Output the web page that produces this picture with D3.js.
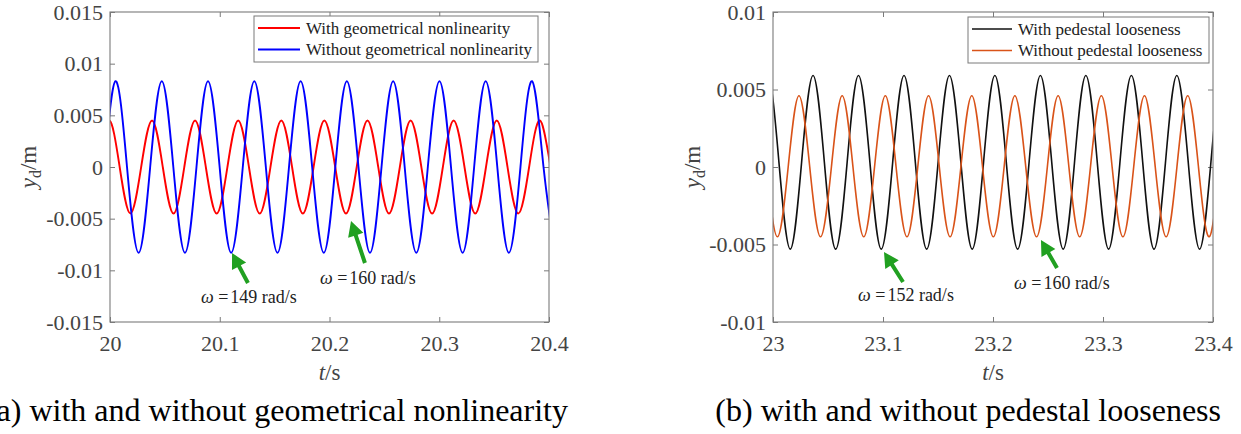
<!DOCTYPE html>
<html>
<head>
<meta charset="utf-8">
<script src="https://cdn.jsdelivr.net/npm/d3@7"></script>
<style>
  html, body { margin: 0; padding: 0; background: #fff; }
  svg { display: block; }
  svg text { font-family: "Liberation Serif", "Times New Roman", serif; }
</style>
</head>
<body>
<svg id="fig" width="1241" height="434" font-family="Liberation Serif, serif"></svg>
<script>
// ---------- (a) geometrical nonlinearity: key points (peaks, crossings, troughs) ----------
const geoWithT = [19.9794, 19.9892, 19.9990, 20.0088, 20.0186, 20.0284, 20.0383, 20.0481, 20.0579, 20.0677,
  20.0775, 20.0873, 20.0972, 20.1070, 20.1168, 20.1266, 20.1364, 20.1462, 20.1561, 20.1659,
  20.1757, 20.1855, 20.1953, 20.2052, 20.2150, 20.2248, 20.2346, 20.2444, 20.2542, 20.2641,
  20.2739, 20.2837, 20.2935, 20.3033, 20.3131, 20.3230, 20.3328, 20.3426, 20.3524, 20.3622,
  20.3720, 20.3819, 20.3917, 20.4015, 20.4113];
const geoWithY = [-0.0045, 0, 0.0045, 0, -0.0045, 0, 0.0045, 0, -0.0045, 0,
  0.0045, 0, -0.0045, 0, 0.0045, 0, -0.0045, 0, 0.0045, 0,
  -0.0045, 0, 0.0045, 0, -0.0045, 0, 0.0045, 0, -0.0045, 0,
  0.0045, 0, -0.0045, 0, 0.0045, 0, -0.0045, 0, 0.0045, 0,
  -0.0045, 0, 0.0045, 0, -0.0045];

const geoWithoutT = [19.9839, 19.9945, 20.0050, 20.0155, 20.0261, 20.0366, 20.0472, 20.0577, 20.0683, 20.0788,
  20.0893, 20.0999, 20.1104, 20.1210, 20.1315, 20.1420, 20.1526, 20.1631, 20.1737, 20.1842,
  20.1948, 20.2053, 20.2158, 20.2264, 20.2369, 20.2474, 20.2580, 20.2685, 20.2791, 20.2896,
  20.3002, 20.3107, 20.3213, 20.3318, 20.3423, 20.3529, 20.3634, 20.3740, 20.3845, 20.3950,
  20.4056];
const geoWithoutY = [-0.0083, 0, 0.0083, 0, -0.0083, 0, 0.0083, 0, -0.0083, 0,
  0.0083, 0, -0.0083, 0, 0.0083, 0, -0.0083, 0, 0.0083, 0,
  -0.0083, 0, 0.0083, 0, -0.0083, 0, 0.0083, 0, -0.0083, 0,
  0.0083, 0, -0.0083, 0, 0.0083, 0, -0.0083, 0, 0.0083, 0,
  -0.0083];

// ---------- (b) pedestal looseness ----------
const pedWithT = [22.9743, 22.9847, 22.9950, 23.0054, 23.0157, 23.0260, 23.0364, 23.0467, 23.0570, 23.0674,
  23.0777, 23.0881, 23.0984, 23.1088, 23.1191, 23.1294, 23.1397, 23.1501, 23.1604, 23.1708,
  23.1811, 23.1914, 23.2017, 23.2121, 23.2224, 23.2328, 23.2431, 23.2534, 23.2638, 23.2741,
  23.2844, 23.2948, 23.3051, 23.3154, 23.3258, 23.3361, 23.3464, 23.3568, 23.3671, 23.3775,
  23.3878, 23.3981, 23.4085, 23.4188];
const pedWithY = [-0.0053, 0.0003, 0.0059, 0.0003, -0.0053, 0.0003, 0.0059, 0.0003, -0.0053, 0.0003,
  0.0059, 0.0003, -0.0053, 0.0003, 0.0059, 0.0003, -0.0053, 0.0003, 0.0059, 0.0003,
  -0.0053, 0.0003, 0.0059, 0.0003, -0.0053, 0.0003, 0.0059, 0.0003, -0.0053, 0.0003,
  0.0059, 0.0003, -0.0053, 0.0003, 0.0059, 0.0003, -0.0053, 0.0003, 0.0059, 0.0003,
  -0.0053, 0.0003, 0.0059, 0.0003];

const pedWithoutT = [22.9647, 22.9745, 22.9843, 22.9941, 23.0040, 23.0138, 23.0236, 23.0334, 23.0432, 23.0531,
  23.0629, 23.0727, 23.0825, 23.0923, 23.1021, 23.1119, 23.1218, 23.1316, 23.1414, 23.1512,
  23.1610, 23.1708, 23.1807, 23.1905, 23.2003, 23.2101, 23.2199, 23.2298, 23.2396, 23.2494,
  23.2592, 23.2690, 23.2788, 23.2886, 23.2985, 23.3083, 23.3181, 23.3279, 23.3377, 23.3475,
  23.3574, 23.3672, 23.3770, 23.3868, 23.3966, 23.4065, 23.4163];
const pedWithoutY = [-0.0045, 0, 0.0046, 0, -0.0045, 0, 0.0046, 0, -0.0045, 0,
  0.0046, 0, -0.0045, 0, 0.0046, 0, -0.0045, 0, 0.0046, 0,
  -0.0045, 0, 0.0046, 0, -0.0045, 0, 0.0046, 0, -0.0045, 0,
  0.0046, 0, -0.0045, 0, 0.0046, 0, -0.0045, 0, 0.0046, 0,
  -0.0045, 0, 0.0046, 0, -0.0045, 0, 0.0046];

// ---------- ticks ----------
const xTicksA = [20, 20.1, 20.2, 20.3, 20.4];
const xTickLabelsA = ["20", "20.1", "20.2", "20.3", "20.4"];
const yTicksA = [-0.015, -0.01, -0.005, 0, 0.005, 0.01, 0.015];
const yTickLabelsA = ["-0.015", "-0.01", "-0.005", "0", "0.005", "0.01", "0.015"];
const xTicksB = [23, 23.1, 23.2, 23.3, 23.4];
const xTickLabelsB = ["23", "23.1", "23.2", "23.3", "23.4"];
const yTicksB = [-0.01, -0.005, 0, 0.005, 0.01];
const yTickLabelsB = ["-0.01", "-0.005", "0", "0.005", "0.01"];

// ---------- legend text, annotations, captions ----------
const legendA = ["With geometrical nonlinearity", "Without geometrical nonlinearity"];
const legendB = ["With pedestal looseness", "Without pedestal looseness"];
// arrows in data units: [tipT, tipY, tailT, tailY]; labels: [t, y, omega]
const arrowsA = [[20.1112, -0.00832, 20.1257, -0.01123], [20.2196, -0.00523, 20.2323, -0.00929]];
const notesA = [[20.0829, -0.01316, "149"], [20.1913, -0.01132, "160"]];
const arrowsB = [[23.1009, -0.00548, 23.1182, -0.00742], [23.2436, -0.00471, 23.2582, -0.00652]];
const notesB = [[23.0773, -0.00865, "152"], [23.2191, -0.00787, "160"]];
const captionA = "(a) with and without geometrical nonlinearity";
const captionB = "(b) with and without pedestal looseness";

const SERIF = "Liberation Serif, Times New Roman, serif";
const svg = d3.select("#fig");
const AXIS = "#7a7a7a", TICKTXT = "#444", ARROW = "#21a021";

function zip(ts, ys) { return ts.map((t, i) => ({ t, y: ys[i] })); }

function arrowPath(x0, y0, x1, y1) {
  // shaft from (x0,y0) to tip (x1,y1) with a triangular head
  const dx = x1 - x0, dy = y1 - y0, L = Math.hypot(dx, dy);
  const ux = dx / L, uy = dy / L, nx = -uy, ny = ux;
  const hl = 15, hw = 8, sw = 2;
  const bx = x1 - ux * hl, by = y1 - uy * hl;
  const p = [
    [x0 + nx * sw, y0 + ny * sw], [bx + nx * sw, by + ny * sw], [bx + nx * hw, by + ny * hw],
    [x1, y1],
    [bx - nx * hw, by - ny * hw], [bx - nx * sw, by - ny * sw], [x0 - nx * sw, y0 - ny * sw]
  ];
  return "M" + p.map(d => d.join(",")).join("L") + "Z";
}

function panel(cfg) {
  const { id, L, R, T, B } = cfg;
  const x = d3.scaleLinear().domain(cfg.xDomain).range([L, R]);
  const y = d3.scaleLinear().domain(cfg.yDomain).range([B, T]);
  const g = svg.append("g").attr("font-family", SERIF);

  svg.append("clipPath").attr("id", "clip-" + id)
    .append("rect").attr("x", L).attr("y", T).attr("width", R - L).attr("height", B - T);

  // axes with inward ticks on all four sides
  const tk = 5;
  const bottom = g.append("g").attr("transform", `translate(0,${B})`)
    .call(d3.axisBottom(x).tickValues(cfg.xTicks).tickFormat((d, i) => cfg.xLabels[i])
      .tickSizeInner(-tk).tickSizeOuter(0).tickPadding(13));
  const top = g.append("g").attr("transform", `translate(0,${T})`)
    .call(d3.axisTop(x).tickValues(cfg.xTicks).tickFormat("").tickSizeInner(-tk).tickSizeOuter(0));
  const left = g.append("g").attr("transform", `translate(${L},0)`)
    .call(d3.axisLeft(y).tickValues(cfg.yTicks).tickFormat((d, i) => cfg.yLabels[i])
      .tickSizeInner(-tk).tickSizeOuter(0).tickPadding(7));
  const right = g.append("g").attr("transform", `translate(${R},0)`)
    .call(d3.axisRight(y).tickValues(cfg.yTicks).tickFormat("").tickSizeInner(-tk).tickSizeOuter(0));
  [bottom, top, left, right].forEach(a => {
    a.attr("font-family", SERIF).attr("font-size", 22);
    a.select(".domain").remove();
    a.selectAll(".tick line").attr("stroke", AXIS).attr("stroke-width", 1);
    a.selectAll(".tick text").attr("fill", TICKTXT);
  });

  // series
  const line = d3.line().x(d => x(d.t)).y(d => y(d.y)).curve(d3.curveNatural);
  const plot = g.append("g").attr("clip-path", `url(#clip-${id})`);
  cfg.series.forEach(s => {
    plot.append("path").datum(zip(s.t, s.y))
      .attr("d", line).attr("fill", "none")
      .attr("stroke", s.color).attr("stroke-width", s.width);
  });

  // frame
  g.append("rect").attr("x", L).attr("y", T).attr("width", R - L).attr("height", B - T)
    .attr("fill", "none").attr("stroke", AXIS).attr("stroke-width", 1.1);

  // legend
  const lg = cfg.legend;
  g.append("rect").attr("x", lg.x).attr("y", lg.y).attr("width", lg.w).attr("height", lg.h)
    .attr("fill", "#fff").attr("stroke", AXIS).attr("stroke-width", 1);
  cfg.series.forEach((s, i) => {
    const yy = lg.y + 12 + i * 21.5;
    g.append("line").attr("x1", lg.x + 4).attr("x2", lg.x + lg.lineLen + 4)
      .attr("y1", yy).attr("y2", yy).attr("stroke", s.color).attr("stroke-width", s.width);
    g.append("text").attr("x", lg.x + lg.lineLen + 10).attr("y", yy + 5.5)
      .attr("fill", "#222").attr("font-size", 17).text(lg.labels[i]);
  });

  // arrows and omega labels
  cfg.arrows.forEach(a => {
    g.append("path").attr("d", arrowPath(x(a[2]), y(a[3]), x(a[0]), y(a[1]))).attr("fill", ARROW);
  });
  cfg.notes.forEach(n => {
    const t = g.append("text").attr("x", x(n[0])).attr("y", y(n[1]))
      .attr("fill", "#222").attr("font-size", 18);
    t.append("tspan").attr("font-style", "italic").text("ω");
    t.append("tspan").text(" =");
    t.append("tspan").attr("dx", 2).text(n[2] + " rad/s");
  });

  // axis titles
  const xl = g.append("text").attr("x", (L + R) / 2).attr("y", 380)
    .attr("text-anchor", "middle").attr("fill", TICKTXT).attr("font-size", 23);
  xl.append("tspan").attr("font-style", "italic").text("t");
  xl.append("tspan").text("/s");

  const yl = g.append("text").attr("transform", `translate(${cfg.yLabelX},167) rotate(-90)`)
    .attr("text-anchor", "middle").attr("fill", TICKTXT).attr("font-size", 23);
  yl.append("tspan").attr("font-style", "italic").text("y");
  yl.append("tspan").attr("dy", 5).attr("font-size", 16).text("d");
  yl.append("tspan").attr("dy", -5).text("/m");

  // caption
  svg.append("text").attr("x", cfg.captionX).attr("y", 421).attr("text-anchor", "end")
    .attr("font-family", SERIF).attr("fill", "#000").attr("font-size", 32).text(cfg.caption);
}

panel({
  id: "a", L: 110, R: 549, T: 12, B: 322,
  xDomain: [20, 20.4], yDomain: [-0.015, 0.015],
  xTicks: xTicksA, xLabels: xTickLabelsA, yTicks: yTicksA, yLabels: yTickLabelsA,
  series: [
    { t: geoWithT, y: geoWithY, color: "#ff0000", width: 1.9 },
    { t: geoWithoutT, y: geoWithoutY, color: "#0000ff", width: 1.9 }
  ],
  legend: { x: 254, y: 16, w: 284, h: 46, lineLen: 42, labels: legendA },
  arrows: arrowsA, notes: notesA,
  yLabelX: 36, captionX: 568, caption: captionA
});

panel({
  id: "b", L: 773, R: 1213, T: 12, B: 322,
  xDomain: [23, 23.4], yDomain: [-0.01, 0.01],
  xTicks: xTicksB, xLabels: xTickLabelsB, yTicks: yTicksB, yLabels: yTickLabelsB,
  series: [
    { t: pedWithT, y: pedWithY, color: "#111111", width: 1.6 },
    { t: pedWithoutT, y: pedWithoutY, color: "#d95319", width: 1.6 }
  ],
  legend: { x: 968, y: 17, w: 241, h: 46, lineLen: 40, labels: legendB },
  arrows: arrowsB, notes: notesB,
  yLabelX: 700, captionX: 1221, caption: captionB
});
</script>
</body>
</html>
